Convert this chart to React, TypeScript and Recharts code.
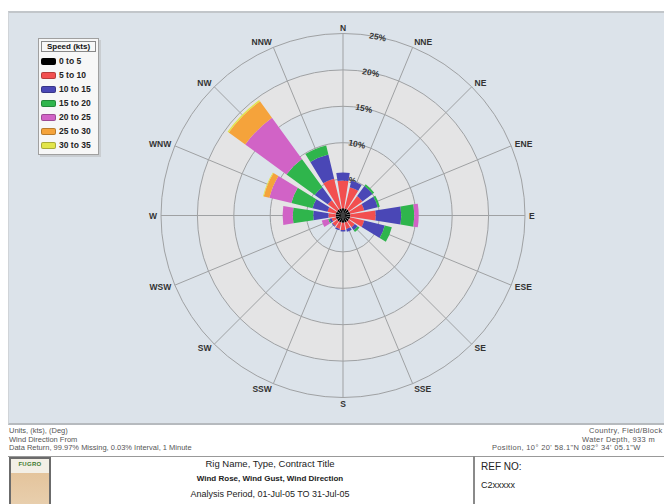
import React from 'react';
import { RadialBarChart, RadialBar, PolarAngleAxis, PolarRadiusAxis, PolarGrid } from 'recharts';

// ---- data ----
const directions = ['N', 'NNE', 'NE', 'ENE', 'E', 'ESE', 'SE', 'SSE', 'S', 'SSW', 'SW', 'WSW', 'W', 'WNW', 'NW', 'NNW'];
const speedBins = ['0 to 5', '5 to 10', '10 to 15', '15 to 20', '20 to 25', '25 to 30', '30 to 35'];
const binColors = ['#000000', '#f24f4f', '#4a47b6', '#2fb54c', '#d163c6', '#f5a33b', '#e2e54a'];

// percent of time per direction, per speed bin (stacked)
const s0to5 = [1.0, 1.0, 1.0, 1.0, 1.0, 1.0, 1.0, 1.0, 1.0, 1.0, 1.0, 1.0, 1.0, 1.0, 1.0, 1.0];
const s5to10 = [3.8, 3.0, 2.3, 2.0, 3.5, 2.0, 1.0, 0.9, 1.0, 0.9, 0.8, 0.6, 1.0, 1.2, 1.6, 4.2];
const s10to15 = [1.1, 0.9, 1.7, 1.9, 3.5, 2.9, 0.5, 0.4, 0.2, 0.2, 0.1, 0.3, 2.1, 2.1, 2.2, 3.4];
const s15to20 = [0, 0, 0.3, 0.3, 1.8, 1.0, 0.3, 0, 0, 0, 0, 0.2, 2.8, 3.0, 4.8, 1.3];
const s20to25 = [0, 0, 0, 0, 0.6, 0, 0, 0, 0, 0, 0, 0.9, 1.4, 3.1, 7.0, 0];
const s25to30 = [0, 0, 0, 0, 0, 0, 0, 0, 0, 0, 0, 0, 0, 0.8, 2.8, 0];
const s30to35 = [0, 0, 0, 0, 0, 0, 0, 0, 0, 0, 0, 0, 0, 0.1, 0.2, 0];

const radiusTicks = [5, 10, 15, 20, 25];
const ringFills = ['#dce3ea', '#e4e4e5', '#dce3ea', '#e4e4e5', '#dce3ea'];

const leftNotes = ['Units, (kts), (Deg)', 'Wind Direction From', 'Data Return, 99.97% Missing, 0.03% Interval, 1 Minute'];
const rightNotes = ['Country, Field/Block', 'Water Depth, 933 m', 'Position, 10\u00b0 20\' 58.1"N 082\u00b0 34\' 05.1"W'];
const rightNoteLeft = [589, 582, 492];
const titleLines = ['Rig Name, Type, Contract Title', 'Wind Rose, Wind Gust, Wind Direction', 'Analysis Period, 01-Jul-05 TO 31-Jul-05'];

// ---- derived tables ----
const series = [s0to5, s5to10, s10to15, s15to20, s20to25, s25to30, s30to35];
const seriesKeys = series.map((_, i) => 'b' + i);
const data = directions.map((d, i) => {
  const row: Record<string, number | string> = { dir: d };
  series.forEach((s, j) => { row[seriesKeys[j]] = s[i]; });
  return row;
});
const ringKeys = radiusTicks.map((_, i) => 'r' + i);
const ringRow: Record<string, number | string> = { name: 'rings' };
radiusTicks.forEach((t, i) => { ringRow[ringKeys[i]] = t - (i ? radiusTicks[i - 1] : 0); });
const ringData = [ringRow];

// ---- layout ----
const W = 664;
const H = 504;
const CX = 343;
const CY = 215.5;
const R = 182;
const FONT = '"Liberation Sans", Arial, sans-serif';
const HALF_BAND = 180 / directions.length;
const noMargin = { top: 0, right: 0, bottom: 0, left: 0 };

const DirTick = (props: any) => {
  const { x, y, payload } = props;
  const dx = x - CX;
  const dy = y - CY;
  const len = Math.hypot(dx, dy) || 1;
  const ux = dx / len;
  const uy = dy / len;
  const px = CX + ux * (R + 4);
  const py = CY + uy * (R + 6);
  const anchor = ux > 0.1 ? 'start' : ux < -0.1 ? 'end' : 'middle';
  return (
    <text x={px} y={py} textAnchor={anchor} dominantBaseline="central" fontSize={8.5} fontWeight="bold" fill="#333" fontFamily={FONT}>
      {payload.value}
    </text>
  );
};

const PctTick = (props: any) => {
  const { x, y, payload } = props;
  return (
    <text x={x} y={y} textAnchor="middle" dominantBaseline="central" transform={`rotate(11, ${x}, ${y})`} fontSize={8.5} fontWeight="bold" fill="#333" fontFamily={FONT}>
      {payload.value}%
    </text>
  );
};

const Legend = () => (
  <div style={{ position: 'absolute', left: 38, top: 38, width: 59, height: 115, background: '#f7f7f7', border: '1px solid #a0a0a0', boxShadow: '2px 2px 0 #c9cdd1', fontFamily: FONT }}>
    <div style={{ margin: '2px 2px 0 2px', border: '1px solid #888', fontSize: 8, fontWeight: 'bold', color: '#111', textAlign: 'center', lineHeight: '9px', height: 9 }}>
      Speed (kts)
    </div>
    {speedBins.map((b, i) => (
      <div key={b} style={{ position: 'absolute', left: 2, top: 17 + i * 14, height: 10, display: 'flex', alignItems: 'center' }}>
        <div style={{ width: 13, height: 5, background: binColors[i], borderRadius: 2, border: '1px solid rgba(0,0,0,0.25)' }} />
        <span style={{ marginLeft: 3, fontSize: 8.5, fontWeight: 'bold', color: '#222', whiteSpace: 'nowrap' }}>{b}</span>
      </div>
    ))}
  </div>
);

const layer: React.CSSProperties = { position: 'absolute', left: 0, top: 0 };

export default function App() {
  return (
    <div style={{ position: 'absolute', left: 0, top: 0, width: W, height: H, overflow: 'hidden', background: '#fff', fontFamily: FONT }}>
      {/* chart panel */}
      <div style={{ position: 'absolute', left: 8, top: 11, width: 700, height: 410, background: '#dce3ea', borderTop: '2px solid #c2c6ca', borderBottom: '2px solid #b6babe', borderLeft: '1px solid #d0d4d8' }} />

      {/* layer A: shaded rings */}
      <div style={layer}>
        <RadialBarChart width={W} height={H} cx={CX} cy={CY} innerRadius={0} outerRadius={R} data={ringData} layout="centric" startAngle={90} endAngle={-270} barCategoryGap={0} margin={noMargin}>
          <PolarAngleAxis type="category" dataKey="name" tick={false} axisLine={false} tickLine={false} />
          <PolarRadiusAxis type="number" domain={[0, 25]} tick={false} axisLine={false} tickLine={false} />
          {ringKeys.map((k, i) => (
            <RadialBar key={k} dataKey={k} stackId="rings" fill={ringFills[i]} stroke={ringFills[i]} strokeWidth={0.5} isAnimationActive={false} />
          ))}
        </RadialBarChart>
      </div>

      {/* layer B: grid, direction labels, percent labels */}
      <div style={layer}>
        <RadialBarChart width={W} height={H} cx={CX} cy={CY} innerRadius={0} outerRadius={R} data={data} layout="centric" startAngle={90} endAngle={-270} barCategoryGap="10%" margin={noMargin}>
          <PolarGrid gridType="circle" stroke="#9fa1a3" strokeWidth={1} />
          <PolarAngleAxis type="category" dataKey="dir" tick={<DirTick />} tickLine={false} axisLine={false} />
          <PolarRadiusAxis type="number" domain={[0, 25]} ticks={radiusTicks} angle={79} axisLine={false} tickLine={false} tick={<PctTick />} />
          <RadialBar dataKey="b0" stackId="ghost" fill="none" isAnimationActive={false} />
        </RadialBarChart>
      </div>

      {/* layer C: stacked speed bars */}
      <div style={layer}>
        <RadialBarChart width={W} height={H} cx={CX} cy={CY} innerRadius={0} outerRadius={R} data={data} layout="centric" startAngle={90 - HALF_BAND} endAngle={-270 - HALF_BAND} barCategoryGap="10%" margin={noMargin}>
          <PolarAngleAxis type="category" dataKey="dir" tick={false} tickLine={false} axisLine={false} />
          <PolarRadiusAxis type="number" domain={[0, 25]} ticks={radiusTicks} tick={false} axisLine={false} tickLine={false} />
          {seriesKeys.map((k, i) => (
            <RadialBar key={k} dataKey={k} stackId="speed" fill={binColors[i]} isAnimationActive={false} />
          ))}
        </RadialBarChart>
      </div>

      <Legend />

      {/* notes */}
      <div style={{ position: 'absolute', left: 9, top: 427, fontSize: 7.5, lineHeight: '8.5px', color: '#555', whiteSpace: 'nowrap' }}>
        {leftNotes.map((t) => <div key={t}>{t}</div>)}
      </div>
      {rightNotes.map((t, i) => (
        <div key={t} style={{ position: 'absolute', left: rightNoteLeft[i], top: 427 + i * 8.5, fontSize: 7.5, letterSpacing: 0.35, lineHeight: '8.5px', color: '#555', whiteSpace: 'nowrap' }}>{t}</div>
      ))}

      {/* title block */}
      <div style={{ position: 'absolute', left: 8, top: 456, width: 700, height: 60, borderTop: '1px solid #999' }} />
      <div style={{ position: 'absolute', left: 9, top: 457, width: 38, height: 47, border: '2px solid #6b6b6b', background: 'linear-gradient(#f3efe6 0, #f3efe6 30%, #e4c49c 30%, #e8cfae 100%)' }}>
        <div style={{ fontSize: 6, fontWeight: 'bold', color: '#3d7a2e', textAlign: 'center', marginTop: 2, letterSpacing: 0.3 }}>FUGRO</div>
      </div>
      <div style={{ position: 'absolute', left: 60, top: 457, width: 420, textAlign: 'center', color: '#222' }}>
        <div style={{ fontSize: 9.5, lineHeight: '14px' }}>{titleLines[0]}</div>
        <div style={{ fontSize: 8, lineHeight: '16px', fontWeight: 'bold' }}>{titleLines[1]}</div>
        <div style={{ fontSize: 9, lineHeight: '15px' }}>{titleLines[2]}</div>
      </div>
      <div style={{ position: 'absolute', left: 473, top: 456, width: 2, height: 50, background: '#8a8a8a' }} />
      <div style={{ position: 'absolute', left: 481, top: 461, fontSize: 10, color: '#222' }}>REF NO:</div>
      <div style={{ position: 'absolute', left: 481, top: 480, fontSize: 9, color: '#222' }}>C2xxxxx</div>
    </div>
  );
}
